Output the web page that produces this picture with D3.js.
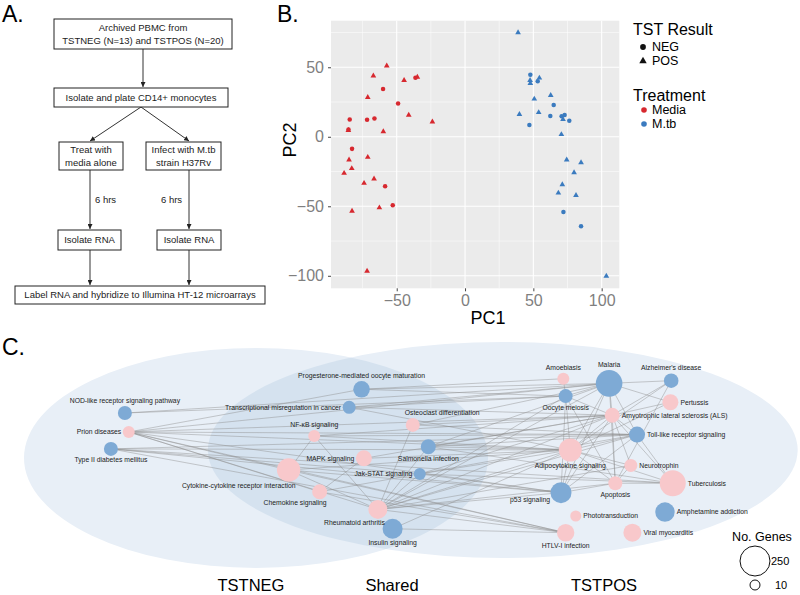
<html>
<head>
<meta charset="utf-8">
<script src="https://d3js.org/d3.v7.min.js"></script>
<style>
  body { margin: 0; background: #fff; }
  text { font-family: "Liberation Sans", Arial, Helvetica, sans-serif; }
  .flow rect { fill: #fff; stroke: #222; stroke-width: 1px; }
  .flow text { font-size: 9.5px; fill: #222; }
  .arrow { stroke: #333; stroke-width: 1px; fill: none; }
  .grid-major { stroke: #fff; stroke-width: 1.1px; }
  .grid-minor { stroke: #fff; stroke-width: 0.5px; }
  .tick-label { font-size: 16px; fill: #7f7f7f; }
  .edge { stroke: #8c8c8c; stroke-width: 0.6px; stroke-opacity: 0.75; }
  .node-label { font-size: 6.8px; fill: #222; }
</style>
</head>
<body>
<svg id="fig" width="800" height="595"></svg>
<script>
// ---------- Panel B: PCA scores ----------
const mediaPC1 = [-57.3,-67.1,-44.6,-36.3,-34.9,-60.0,-71.2,-49.0,-41.2,-23.9,-84.4,-71.7,-66.3,-85.4,-85.3,-59.8,-82.7,-84.9,-71.2,-82.9,-88.5,-66.6,-73.9,-58.5,-52.9,-62.7,-82.7,-71.7];
const mediaPC2 = [51.0,43.8,40.6,42.5,43.0,34.4,28.4,24.0,15.6,10.8,12.5,12.3,13.2,4.6,5.2,3.8,-8.7,-16.6,-14.7,-22.8,-26.2,-30.3,-33.4,-35.6,-49.3,-51.0,-53.4,-96.6];
const mediaTST = ["POS","POS","POS","NEG","POS","NEG","POS","NEG","POS","POS","NEG","NEG","NEG","POS","NEG","POS","NEG","POS","POS","POS","POS","POS","POS","NEG","NEG","POS","POS","POS"];

const mtbPC1 = [38.8,47.8,47.6,47.8,53.2,54.4,50.7,62.7,64.9,39.8,53.9,62.4,70.7,72.9,71.7,76.3,47.1,70.5,74.4,84.9,79.8,71.2,68.3,81.2,72.0,84.9,103.4];
const mtbPC2 = [75.0,44.7,40.6,38.5,39.9,42.3,27.2,29.8,22.8,16.1,17.5,14.9,14.7,15.6,12.5,11.5,8.4,1.7,-16.6,-18.5,-25.7,-34.4,-40.4,-42.1,-54.1,-64.4,-100.2];
const mtbTST = ["POS","NEG","POS","POS","NEG","POS","POS","POS","NEG","POS","POS","NEG","NEG","NEG","POS","NEG","NEG","POS","POS","POS","POS","POS","POS","POS","NEG","NEG","POS"];

const pc1Ticks = [-50, 0, 50, 100];
const pc2Ticks = [-100, -50, 0, 50];
const treatmentNames = ["Media", "M.tb"];
const tstNames = ["NEG", "POS"];

// ---------- Panel C: pathway network ----------
const pathwayId = ["nod","prion","t2d","prog","tmc","osteo","nfkb","salm","mapk","cyto","jak","chemo","ra","ins",
  "amoeb","malaria","alz","oocyte","pert","als","tlr","adipo","neuro","tb","apop","p53","photo","amph","htlv","viral"];
const pathwayName = ["NOD-like receptor signaling pathway","Prion diseases","Type II diabetes mellitus",
  "Progesterone-mediated oocyte maturation","Transcriptional misregulation in cancer","Osteoclast differentiation",
  "NF-\u03baB signaling","Salmonella infection","MAPK signaling","Cytokine-cytokine receptor interaction",
  "Jak-STAT signaling","Chemokine signaling","Rheumatoid arthritis","Insulin signaling",
  "Amoebiasis","Malaria","Alzheimer's disease","Oocyte meiosis","Pertussis","Amyotrophic lateral sclerosis (ALS)",
  "Toll-like receptor signaling","Adipocytokine signaling","Neurotrophin","Tuberculosis","Apoptosis","p53 signaling",
  "Phototransduction","Amphetamine addiction","HTLV-I infection","Viral myocarditis"];
const pathwayClass = ["M.tb","Media","M.tb","M.tb","M.tb","Media","Media","M.tb","Media","Media","M.tb","Media","Media","M.tb",
  "Media","M.tb","M.tb","M.tb","Media","Media","M.tb","Media","Media","Media","Media","M.tb","Media","M.tb","Media","Media"];
const pathwayGenes = [58,34,58,89,46,58,34,70,82,171,34,70,118,130,
  34,209,65,58,82,70,82,166,46,202,58,142,22,123,99,106];
// layout coordinates (0-100 in both directions)
const layoutX = [13.0,13.5,11.2,43.5,41.9,50.1,37.4,52.1,43.8,34.1,51.0,38.1,45.6,47.5,
  69.5,75.4,83.4,69.8,83.3,75.8,79.0,70.4,78.2,83.6,76.2,69.2,71.1,82.6,69.8,78.4];
const layoutY = [33.2,41.8,49.5,22.4,30.6,38.6,43.6,48.5,53.8,59.1,60.9,69.0,77.0,85.8,
  17.6,19.7,18.5,25.5,28.3,34.2,43.0,50.0,57.0,65.1,65.1,69.4,80.0,78.2,87.6,87.6];
const labelSide = ["top","left","bottom","top","left","top-r","top","bottom","left","bottom-l","left","bottom-l","bottom-l","bottom",
  "top","top","top","bottom","right","right","right","bottom","right","right","bottom","left-b","right","right","bottom","right"];

const edgeList = [
  ["nod","malaria"],["nod","oocyte"],
  ["prion","prog"],["prion","malaria"],["prion","als"],["prion","adipo"],["prion","tlr"],["prion","p53"],
  ["prion","cyto"],["prion","ra"],["prion","chemo"],["prion","htlv"],
  ["t2d","adipo"],["t2d","tlr"],["t2d","tb"],["t2d","jak"],["t2d","p53"],["t2d","htlv"],
  ["prog","malaria"],["prog","oocyte"],["prog","amoeb"],
  ["tmc","malaria"],["tmc","oocyte"],["tmc","als"],["tmc","adipo"],
  ["osteo","ra"],["osteo","als"],["osteo","malaria"],["osteo","tlr"],
  ["nfkb","ra"],["nfkb","cyto"],["nfkb","adipo"],["nfkb","als"],["nfkb","tlr"],
  ["salm","als"],["salm","adipo"],["salm","tlr"],["salm","tb"],["salm","malaria"],
  ["mapk","chemo"],["mapk","adipo"],["mapk","als"],
  ["cyto","ra"],["cyto","htlv"],["cyto","adipo"],["cyto","p53"],
  ["jak","adipo"],["jak","als"],["jak","tb"],["jak","p53"],
  ["chemo","htlv"],["chemo","tlr"],
  ["ra","salm"],["ra","jak"],["ra","adipo"],["ra","als"],["ra","malaria"],["ra","oocyte"],["ra","tlr"],
  ["ra","htlv"],["ra","p53"],["ra","apop"],["ra","neuro"],
  ["ins","htlv"],["ins","adipo"],
  ["amoeb","oocyte"],
  ["malaria","oocyte"],["malaria","als"],["malaria","adipo"],["malaria","pert"],["malaria","tlr"],["malaria","alz"],
  ["malaria","p53"],["malaria","apop"],
  ["alz","als"],["alz","adipo"],["alz","apop"],
  ["oocyte","adipo"],["oocyte","p53"],["oocyte","apop"],["oocyte","als"],
  ["pert","als"],["pert","adipo"],
  ["als","tlr"],["als","neuro"],["als","apop"],["als","adipo"],["als","p53"],["als","tb"],
  ["tlr","tb"],["tlr","adipo"],["tlr","p53"],
  ["adipo","tb"],["adipo","apop"],["adipo","neuro"],["adipo","p53"],
  ["neuro","apop"],["apop","p53"],["apop","tb"]
];
const genesLegend = [250, 10];
const groupNames = ["TSTNEG", "Shared", "TSTPOS"];

const svg = d3.select("#fig");
const colorPoint = d3.scaleOrdinal().domain(treatmentNames).range(["#d7282f", "#3b7bbf"]);
const colorNode = d3.scaleOrdinal().domain(treatmentNames).range(["#f8c8cb", "#7eaad5"]);

// ================= Panel A: flow chart =================
const defs = svg.append("defs");
defs.append("marker").attr("id", "arrowhead")
    .attr("viewBox", "0 0 6 6").attr("refX", 6).attr("refY", 3)
    .attr("markerWidth", 5).attr("markerHeight", 5).attr("orient", "auto")
  .append("path").attr("d", "M0,0 L6,3 L0,6 z").attr("fill", "#222");

svg.append("text").attr("x", 2).attr("y", 22).attr("font-size", 23).text("A.");

const flow = svg.append("g").attr("class", "flow");
const boxes = [
  { x: 54, y: 19, w: 178, h: 30, lines: ["Archived PBMC from", "TSTNEG (N=13) and TSTPOS (N=20)"] },
  { x: 54, y: 88, w: 174, h: 19, lines: ["Isolate and plate CD14+ monocytes"] },
  { x: 59, y: 142, w: 64, h: 28, lines: ["Treat with", "media alone"] },
  { x: 146, y: 142, w: 75, h: 28, lines: ["Infect with M.tb", "strain H37Rv"] },
  { x: 58, y: 230, w: 63, h: 20, lines: ["Isolate RNA"] },
  { x: 157, y: 230, w: 64, h: 20, lines: ["Isolate RNA"] },
  { x: 15, y: 286, w: 250, h: 18, lines: ["Label RNA and hybridize to Illumina HT-12 microarrays"] }
];
const arrows = [
  [143, 49, 143, 87], [141, 107, 90, 141], [141, 107, 189, 141],
  [90, 170, 90, 229], [189, 170, 189, 229], [90, 250, 90, 285], [189, 250, 189, 285]
];
flow.selectAll("line.arrow").data(arrows).join("line")
    .attr("class", "arrow")
    .attr("x1", d => d[0]).attr("y1", d => d[1]).attr("x2", d => d[2]).attr("y2", d => d[3])
    .attr("marker-end", "url(#arrowhead)");
const boxG = flow.selectAll("g.box").data(boxes).join("g").attr("class", "box");
boxG.append("rect").attr("x", d => d.x).attr("y", d => d.y).attr("width", d => d.w).attr("height", d => d.h);
boxG.each(function (d) {
  const n = d.lines.length;
  d3.select(this).selectAll("text").data(d.lines).join("text")
    .attr("x", d.x + d.w / 2)
    .attr("y", (t, i) => d.y + d.h / 2 + (i - (n - 1) / 2) * 12.5)
    .attr("dy", "0.35em")
    .attr("text-anchor", "middle")
    .text(t => t);
});
flow.append("text").attr("x", 95).attr("y", 200).attr("dy", "0.35em").text("6 hrs");
flow.append("text").attr("x", 161).attr("y", 200).attr("dy", "0.35em").text("6 hrs");

// ================= Panel B: PCA scatter =================
svg.append("text").attr("x", 277).attr("y", 22).attr("font-size", 23).text("B.");

const pb = { left: 331, right: 619.3, top: 20.7, bottom: 288.3 };
const x = d3.scaleLinear().domain([-98.1, 112.9]).range([pb.left, pb.right]);
const y = d3.scaleLinear().domain([-109, 83.5]).range([pb.bottom, pb.top]);

const plot = svg.append("g");
plot.append("rect").attr("x", pb.left).attr("y", pb.top)
    .attr("width", pb.right - pb.left).attr("height", pb.bottom - pb.top).attr("fill", "#ebebeb");

const minorX = pc1Ticks.slice(0, -1).map((t, i) => (t + pc1Ticks[i + 1]) / 2).concat([pc1Ticks[0] - 25]);
const minorY = pc2Ticks.slice(0, -1).map((t, i) => (t + pc2Ticks[i + 1]) / 2).concat([pc2Ticks[pc2Ticks.length - 1] + 25]);
plot.selectAll("line.mx").data(minorX).join("line").attr("class", "grid-minor")
    .attr("x1", d => x(d)).attr("x2", d => x(d)).attr("y1", pb.top).attr("y2", pb.bottom);
plot.selectAll("line.my").data(minorY).join("line").attr("class", "grid-minor")
    .attr("y1", d => y(d)).attr("y2", d => y(d)).attr("x1", pb.left).attr("x2", pb.right);
plot.selectAll("line.gx").data(pc1Ticks).join("line").attr("class", "grid-major")
    .attr("x1", d => x(d)).attr("x2", d => x(d)).attr("y1", pb.top).attr("y2", pb.bottom);
plot.selectAll("line.gy").data(pc2Ticks).join("line").attr("class", "grid-major")
    .attr("y1", d => y(d)).attr("y2", d => y(d)).attr("x1", pb.left).attr("x2", pb.right);

// axes
const xAxis = plot.append("g").attr("transform", `translate(0,${pb.bottom})`)
    .call(d3.axisBottom(x).tickValues(pc1Ticks).tickSize(3).tickPadding(3).tickFormat(d3.format("")));
const yAxis = plot.append("g").attr("transform", `translate(${pb.left},0)`)
    .call(d3.axisLeft(y).tickValues(pc2Ticks).tickSize(3).tickPadding(4).tickFormat(d3.format("")));
[xAxis, yAxis].forEach(a => {
  a.select(".domain").remove();
  a.selectAll(".tick line").attr("stroke", "#444");
  a.selectAll(".tick text").attr("class", "tick-label").attr("font-size", null).attr("font-family", null);
});

plot.append("text").attr("x", 488).attr("y", 324).attr("text-anchor", "middle").attr("font-size", 18).text("PC1");
plot.append("text").attr("transform", "translate(296,140) rotate(-90)").attr("text-anchor", "middle")
    .attr("font-size", 18).text("PC2");

const pointData = mediaPC1.map((v, i) => ({ pc1: v, pc2: mediaPC2[i], tst: mediaTST[i], treat: "Media" }))
  .concat(mtbPC1.map((v, i) => ({ pc1: v, pc2: mtbPC2[i], tst: mtbTST[i], treat: "M.tb" })));
const shape = d3.scaleOrdinal().domain(tstNames).range([d3.symbolCircle, d3.symbolTriangle]);
const symSize = { NEG: 16, POS: 14 };
plot.selectAll("path.pt").data(pointData).join("path")
    .attr("class", "pt")
    .attr("transform", d => `translate(${x(d.pc1)},${y(d.pc2)})`)
    .attr("d", d => d3.symbol(shape(d.tst), symSize[d.tst])())
    .attr("fill", d => colorPoint(d.treat));

// legend
const leg = svg.append("g");
leg.append("text").attr("x", 633).attr("y", 35).attr("font-size", 16).text("TST Result");
tstNames.forEach((t, i) => {
  const yy = 47 + i * 14;
  leg.append("path").attr("transform", `translate(643,${yy})`)
     .attr("d", d3.symbol(shape(t), t === "NEG" ? 26 : 24)()).attr("fill", "#111");
  leg.append("text").attr("x", 652).attr("y", yy).attr("dy", "0.35em").attr("font-size", 12.5).text(t);
});
leg.append("text").attr("x", 633).attr("y", 101).attr("font-size", 16).text("Treatment");
treatmentNames.forEach((t, i) => {
  const yy = 110 + i * 14;
  leg.append("circle").attr("cx", 644).attr("cy", yy).attr("r", 2.8).attr("fill", colorPoint(t));
  leg.append("text").attr("x", 652).attr("y", yy).attr("dy", "0.35em").attr("font-size", 12.5).text(t);
});

// ================= Panel C: network =================
svg.append("text").attr("x", 2).attr("y", 355).attr("font-size", 23).text("C.");

const nx = d3.scaleLinear().domain([0, 100]).range([24, 800]);
const ny = d3.scaleLinear().domain([0, 100]).range([340, 560]);
const rScale = d3.scaleLinear().domain([10, 250]).range([5, 15]);

const net = svg.append("g");
// group ellipses: TSTNEG (left) and TSTPOS (right), overlap = Shared
const ellLeft = { cx: 29.9, cy: 53.6, rx: 29.9, ry: 50 };
const ellRight = { cx: 61.7, cy: 50, rx: 38.0, ry: 49.1 };
const ellAttrs = (sel, e) => sel.attr("cx", nx(e.cx)).attr("cy", ny(e.cy))
    .attr("rx", nx(e.rx) - nx(0)).attr("ry", ny(e.ry) - ny(0));
defs.append("clipPath").attr("id", "clipLeft").append("ellipse").call(ellAttrs, ellLeft);
net.append("ellipse").call(ellAttrs, ellLeft).attr("fill", "#e8eff7");
net.append("ellipse").call(ellAttrs, ellRight).attr("fill", "#e8eff7");
net.append("ellipse").call(ellAttrs, ellRight).attr("fill", "#d5e2ef").attr("clip-path", "url(#clipLeft)");

const nodes = pathwayId.map((id, i) => ({
  id, name: pathwayName[i], cls: pathwayClass[i], genes: pathwayGenes[i],
  x: nx(layoutX[i]), y: ny(layoutY[i]), r: rScale(pathwayGenes[i]), side: labelSide[i]
}));
const byId = new Map(nodes.map(d => [d.id, d]));

net.selectAll("line.edge").data(edgeList).join("line")
    .attr("class", "edge")
    .attr("x1", d => byId.get(d[0]).x).attr("y1", d => byId.get(d[0]).y)
    .attr("x2", d => byId.get(d[1]).x).attr("y2", d => byId.get(d[1]).y);

net.selectAll("circle.node").data(nodes).join("circle")
    .attr("class", "node")
    .attr("cx", d => d.x).attr("cy", d => d.y).attr("r", d => d.r)
    .attr("fill", d => colorNode(d.cls));

function labelPos(d) {
  switch (d.side) {
    case "top": return { x: d.x, y: d.y - d.r - 3, a: "middle" };
    case "top-r": return { x: d.x - 8, y: d.y - d.r - 3, a: "start" };
    case "bottom": return { x: d.x, y: d.y + d.r + 6.5, a: "middle" };
    case "bottom-l": return { x: d.x + 7, y: d.y + d.r + 6, a: "end" };
    case "left": return { x: d.x - d.r - 1.5, y: d.y + 2.4, a: "end" };
    case "left-b": return { x: d.x - d.r - 0.5, y: d.y + 9.5, a: "end" };
    default: return { x: d.x + d.r + 2, y: d.y + 2.4, a: "start" };
  }
}
net.selectAll("text.node-label").data(nodes).join("text")
    .attr("class", "node-label")
    .each(function (d) {
      const p = labelPos(d);
      d3.select(this).attr("x", p.x).attr("y", p.y).attr("text-anchor", p.a);
    })
    .text(d => d.name);

// group labels
const groupX = [251, 392, 604];
svg.selectAll("text.grp").data(groupNames).join("text")
    .attr("class", "grp").attr("x", (d, i) => groupX[i]).attr("y", 591)
    .attr("text-anchor", "middle").attr("font-size", 16.5).text(d => d);

// size legend
const sl = svg.append("g");
sl.append("text").attr("x", 762).attr("y", 541).attr("text-anchor", "middle").attr("font-size", 12.5).text("No. Genes");
genesLegend.forEach((g, i) => {
  const cy = i === 0 ? 561 : 585;
  sl.append("circle").attr("cx", 755).attr("cy", cy).attr("r", rScale(g))
    .attr("fill", "none").attr("stroke", "#111").attr("stroke-width", 1);
  sl.append("text").attr("x", i === 0 ? 771 : 775).attr("y", cy).attr("dy", "0.35em")
    .attr("font-size", 11).text(g);
});
</script>
</body>
</html>
